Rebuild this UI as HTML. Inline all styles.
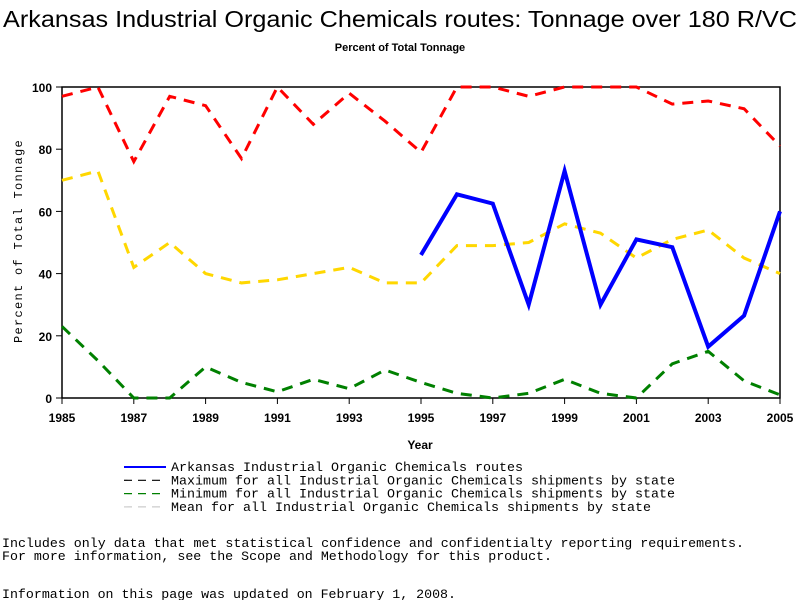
<!DOCTYPE html>
<html><head><meta charset="utf-8"><style>
body{margin:0;background:#fff;width:800px;height:600px;overflow:hidden;font-family:"Liberation Sans",sans-serif}
svg{position:absolute;left:0;top:0}
</style></head><body>
<svg width="800" height="600" id="c">
<text x="3" y="27" textLength="794" lengthAdjust="spacingAndGlyphs" font-size="23" font-family="Liberation Sans">Arkansas Industrial Organic Chemicals routes: Tonnage over 180 R/VC</text>
<text x="400" y="51" text-anchor="middle" font-size="11" font-weight="bold" font-family="Liberation Sans">Percent of Total Tonnage</text>
<text x="420" y="449" text-anchor="middle" font-size="12" font-weight="bold" font-family="Liberation Sans">Year</text>
<text transform="translate(22,241) rotate(-90)" text-anchor="middle" font-size="12" letter-spacing="1.3" font-family="Liberation Mono">Percent of Total Tonnage</text>
<g font-family="Liberation Mono" font-size="13">
<text x="2" y="547" textLength="742" lengthAdjust="spacingAndGlyphs">Includes only data that met statistical confidence and confidentialty reporting requirements.</text>
<text x="2" y="560" textLength="550" lengthAdjust="spacingAndGlyphs">For more information, see the Scope and Methodology for this product.</text>
<text x="2" y="598" textLength="454" lengthAdjust="spacingAndGlyphs">Information on this page was updated on February 1, 2008.</text>
</g>
</svg>
<script>
const years=[1985,1986,1987,1988,1989,1990,1991,1992,1993,1994,1995,1996,1997,1998,1999,2000,2001,2002,2003,2004,2005];
const maxVals=[97,100,76,97,94,77,100,88,98,89,79,100,100,97,100,100,100,94.5,95.5,93,81];
const meanVals=[70,73,42,50,40,37,38,40,42,37,37,49,49,50,56,53,45,51,54,45,40];
const minVals=[23,12,0,0,10,5,2,6,3,9,5,1.5,0,1.5,6,1.5,0,11,15,5.5,1];
const arkYears=[1995,1996,1997,1998,1999,2000,2001,2002,2003,2004,2005];
const arkVals=[46,65.5,62.5,30,73,30,51,48.5,16.5,26.5,60];
const yTicks=[0,20,40,60,80,100];
const xTicks=[1985,1987,1989,1991,1993,1995,1997,1999,2001,2003,2005];
const NS="http://www.w3.org/2000/svg",svg=document.getElementById('c');
const X=y=>62+(y-1985)*(780-62)/20, Y=v=>398-v*3.11;
function mk(t,a){const e=document.createElementNS(NS,t);for(const k in a)e.setAttribute(k,a[k]);svg.appendChild(e);return e;}
const frame=mk('rect',{x:62,y:87,width:718,height:311,fill:'none',stroke:'#000','stroke-width':1.5});


yTicks.forEach(v=>{const l=mk('line',{x1:56,x2:62,y1:Y(v),y2:Y(v),stroke:'#000'});


const t=mk('text',{x:52,y:Y(v)+5,'text-anchor':'end','font-size':12,'font-weight':'bold','font-family':'Liberation Sans'});t.textContent=v;

});
xTicks.forEach(v=>{const l=mk('line',{x1:X(v),x2:X(v),y1:398,y2:404,stroke:'#000'});


const t=mk('text',{x:X(v),y:422,'text-anchor':'middle','font-size':12,'font-weight':'bold','font-family':'Liberation Sans'});t.textContent=v;

});
function line(xs,vs,col,dash,w,name){const p=mk('polyline',{points:xs.map((y,i)=>X(y)+','+Y(vs[i])).join(' '),fill:'none',stroke:col,'stroke-width':w,'stroke-dasharray':dash,'stroke-linejoin':'miter'});

}
line(years,maxVals,'#ff0000','11,8',3,'max-line');
line(years,meanVals,'#ffd700','11,8',3,'mean-line');
line(years,minVals,'#008000','11,8',3,'min-line');
line(arkYears,arkVals,'#0000ff','none',4,'arkansas-line');
const leg=[['#0000ff','none','Arkansas Industrial Organic Chemicals routes',352],['#000','8,6','Maximum for all Industrial Organic Chemicals shipments by state',504],['#008000','8,6','Minimum for all Industrial Organic Chemicals shipments by state',504],['#ccc','8,6','Mean for all Industrial Organic Chemicals shipments by state',480]];
leg.forEach((d,i)=>{const y=467+i*13.3;const l=mk('line',{x1:124,x2:166,y1:y,y2:y,stroke:d[0],'stroke-width':i==0?2:1.2,'stroke-dasharray':d[1]});


const t=mk('text',{x:171,y:y+4,'font-size':13,'font-family':'Liberation Mono',textLength:d[3],lengthAdjust:'spacingAndGlyphs'});t.textContent=d[2];

});
</script>
</body></html>
